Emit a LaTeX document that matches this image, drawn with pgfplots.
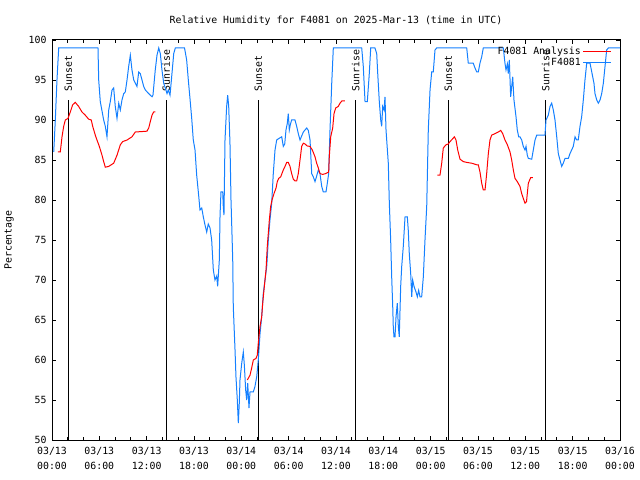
\documentclass[border=0pt]{standalone}
\usepackage{pgfplots}
\pgfplotsset{compat=1.18}
\usepackage{fontspec}
\setmainfont{DejaVu Sans Mono}
\definecolor{obsblue}{RGB}{20,128,255}
\newcommand{\ff}{\fontsize{9.9}{14.5}\selectfont}
\begin{document}
\begin{tikzpicture}
\useasboundingbox (0,0) rectangle (640bp,480bp);
\begin{axis}[
  at={(52bp,40bp)}, anchor=south west,
  scale only axis, width=568bp, height=400bp,
  xmin=0, xmax=72, ymin=50, ymax=100,
  xtick={0,6,...,72},
  minor xtick={2,4,8,10,14,16,20,22,26,28,32,34,38,40,44,46,50,52,56,58,62,64,68,70},
  xticklabels={03/13\\00:00,03/13\\06:00,03/13\\12:00,03/13\\18:00,03/14\\00:00,03/14\\06:00,03/14\\12:00,03/14\\18:00,03/15\\00:00,03/15\\06:00,03/15\\12:00,03/15\\18:00,03/16\\00:00},
  xticklabel style={align=center, font=\ff, yshift=-4bp},
  ytick={50,55,...,100},
  yticklabel style={font=\ff, xshift=-2bp},
  /pgf/number format/assume math mode=true,
  major tick length=4bp, minor tick length=3bp,
  tick style={black, line width=0.8bp},
  axis line style={line width=1bp},
  title={Relative Humidity for F4081 on 2025-Mar-13 (time in UTC)},
  title style={font=\ff, yshift=5bp},
  ylabel={Percentage},
  ylabel style={font=\ff, xshift=0bp, yshift=8bp},
  legend style={draw=none, fill=none, at={(1,1)}, anchor=north east, xshift=-5bp, yshift=-3bp, font=\fontsize{9.9}{11}\selectfont, row sep=-2bp},
  legend cell align=right,
  legend plot pos=right,
  legend image code/.code={\draw[#1] (0bp,0bp) -- (28bp,0bp);},
]
\addlegendimage{red, line width=1bp}
\addlegendentry{F4081 Analysis}
\addlegendimage{obsblue, line width=1bp}
\addlegendentry{F4081}

% sunrise / sunset lines
\addplot[black, line width=1bp, forget plot] coordinates {(2.06,50) (2.06,92.5)};
\addplot[black, line width=1bp, forget plot] coordinates {(14.49,50) (14.49,92.5)};
\addplot[black, line width=1bp, forget plot] coordinates {(26.15,50) (26.15,92.5)};
\addplot[black, line width=1bp, forget plot] coordinates {(38.50,50) (38.50,92.5)};
\addplot[black, line width=1bp, forget plot] coordinates {(50.23,50) (50.23,92.5)};
\addplot[black, line width=1bp, forget plot] coordinates {(62.59,50) (62.59,92.5)};
\node[rotate=90, anchor=west, inner sep=0pt, font=\fontsize{9.9}{11}\selectfont, xshift=1bp] at (axis cs:2.06,93.4) {Sunset};
\node[rotate=90, anchor=west, inner sep=0pt, font=\fontsize{9.9}{11}\selectfont, xshift=1bp] at (axis cs:14.49,93.4) {Sunrise};
\node[rotate=90, anchor=west, inner sep=0pt, font=\fontsize{9.9}{11}\selectfont, xshift=1bp] at (axis cs:26.15,93.4) {Sunset};
\node[rotate=90, anchor=west, inner sep=0pt, font=\fontsize{9.9}{11}\selectfont, xshift=1bp] at (axis cs:38.50,93.4) {Sunrise};
\node[rotate=90, anchor=west, inner sep=0pt, font=\fontsize{9.9}{11}\selectfont, xshift=1bp] at (axis cs:50.23,93.4) {Sunset};
\node[rotate=90, anchor=west, inner sep=0pt, font=\fontsize{9.9}{11}\selectfont, xshift=1bp] at (axis cs:62.59,93.4) {Sunrise};

% observed (blue)
\addplot[obsblue, line width=1bp, forget plot] table {
0.22 86.0
0.42 90
0.63 95
0.85 99
5.83 99
5.92 95
6.12 92.3
6.55 90
6.76 89.2
6.97 87.9
7.19 91.25
7.39 92.3
7.61 93.75
7.82 94
8.02 91.7
8.24 90.2
8.46 92.1
8.66 91.25
8.87 92.5
9.09 93.3
9.29 93.5
9.51 95
9.72 96.7
9.93 98.1
10.14 96.25
10.36 95
10.56 94.6
10.77 94.2
10.99 96
11.19 95.8
11.41 95
11.62 94.2
11.83 93.75
12.26 93.3
12.68 92.9
12.80 93.1
13.09 96.25
13.31 98.1
13.53 99
13.73 98.3
13.94 96.25
14.16 94.6
14.36 94
14.58 93.3
14.74 93.75
14.96 93.1
15.17 95.4
15.43 98.3
15.63 99
16.80 99
17.07 97.5
17.28 95
17.49 92.7
17.71 90.2
17.91 87.5
18.13 86.25
18.34 83.1
18.55 81
18.76 78.75
18.98 79
19.18 77.9
19.39 76.9
19.61 76
19.81 77
20.03 76.5
20.24 75
20.45 71.25
20.66 70
20.88 70.5
21.00 69.2
21.21 72.5
21.30 78.1
21.42 81
21.64 81
21.71 79.2
21.80 78.1
21.93 87.5
22.14 91.7
22.27 93.1
22.40 91.7
22.56 87.1
22.69 80
22.91 72.5
22.98 66.7
23.20 61.25
23.32 57.9
23.49 55
23.62 52.1
23.74 54.6
23.83 57.5
24.05 59.6
24.25 61
24.38 59.4
24.55 56.25
24.68 55
24.81 57.1
24.97 54
25.10 56
25.52 56
25.73 56.7
25.95 57.9
26.15 60
26.37 63.3
26.58 65.4
26.78 68.3
27.00 70
27.22 71.7
27.42 75
27.63 77.5
27.85 79.6
28.05 83.3
28.27 86.25
28.48 87.5
28.77 87.7
29.12 87.9
29.32 86.7
29.50 87
29.66 88.75
29.83 89.6
29.95 90.8
30.08 88.75
30.23 89.5
30.38 90
30.80 90
31.02 89.2
31.22 88.3
31.44 87.5
31.65 88
31.86 88.5
32.07 88.75
32.29 89
32.49 88.7
32.71 87.5
32.92 83.3
33.12 82.9
33.34 82.3
33.55 83
33.76 83.75
33.97 83.3
34.19 81.7
34.39 81
34.73 81
34.90 82.1
35.07 83.3
35.24 88.75
35.46 94.6
35.66 99
39.26 99
39.46 96.7
39.68 92.3
39.97 92.3
40.22 95.8
40.40 99
40.94 99
41.16 98.3
41.29 95.8
41.49 92.3
41.67 90
41.79 89.2
41.92 91.7
42.09 91.25
42.21 92.9
42.34 88.75
42.63 84.6
42.76 79.6
42.93 75
43.06 70.4
43.19 66.7
43.26 64.2
43.35 62.9
43.48 62.9
43.61 65.4
43.77 67.1
43.90 64.2
44.02 62.9
44.20 69.2
44.33 71.7
44.53 74.2
44.75 77.9
45.04 77.9
45.16 76.25
45.29 73.3
45.47 70.8
45.60 67.9
45.72 70
45.89 69.2
46.14 68.5
46.31 67.9
46.48 68.7
46.65 67.9
46.86 67.9
47.07 70.4
47.28 75
47.50 79.2
47.70 88.75
47.92 93.75
48.13 96
48.33 96
48.55 98.75
48.76 99
52.57 99
52.77 97.1
53.40 97.1
53.62 96.5
53.84 96
54.04 96
54.25 97.1
54.47 97.9
54.67 99
57.21 99
57.42 97.1
57.55 96.25
57.72 97
57.84 95.8
57.97 97.5
58.14 92.9
58.40 95.4
58.56 92.5
58.82 90.4
58.98 88.75
59.16 87.9
59.32 87.9
59.54 87.5
59.74 86.7
59.96 86.25
60.09 86.7
60.25 85.6
60.38 85.2
60.81 85.1
61.01 86.25
61.23 87.5
61.44 88.1
62.49 88.1
62.62 90
62.91 90.6
63.13 91.7
63.34 92.1
63.55 91.25
63.76 90
63.98 87.9
64.18 85.8
64.39 85
64.61 84.2
64.81 84.6
65.03 85.2
65.45 85.2
65.66 85.8
66.08 86.7
66.30 87.9
66.51 87.5
66.71 87.5
66.93 89.2
67.14 90.4
67.35 92.5
67.56 95
67.78 97.1
68.20 97.1
68.54 95.4
68.70 94.6
68.83 93.3
69.05 92.5
69.25 92.1
69.47 92.5
69.68 93.3
69.89 94.6
70.10 96.7
70.31 98.75
70.52 99
72.00 99
};

% analysis (red)
\addplot[red, line width=1bp, forget plot] table {
0.76 86
1.05 86
1.27 87.9
1.48 89.2
1.69 90
2.03 90.2
2.32 91
2.62 91.9
2.95 92.2
3.38 91.7
3.80 91
4.22 90.6
4.65 90.1
4.98 90
5.16 89.2
5.49 88.1
5.70 87.5
6.00 86.7
6.34 85.6
6.55 84.8
6.76 84.1
7.19 84.2
7.82 84.6
8.24 85.6
8.66 86.9
8.96 87.3
9.51 87.5
10.14 87.9
10.56 88.5
12.04 88.6
12.26 89
12.46 89.8
12.68 90.6
12.89 91
13.09 91
};
\addplot[red, line width=1bp, forget plot] table {
24.76 57.5
25.10 58.1
25.31 59
25.52 60
25.86 60.2
26.02 60.6
26.15 62.1
26.37 64.2
26.58 65.4
26.71 67.1
26.87 68.75
27.13 71.25
27.29 74.2
27.55 77.5
27.72 79.2
27.89 80
28.14 80.8
28.40 81.5
28.56 82.3
28.74 82.7
28.99 82.9
29.32 83.75
29.54 84.2
29.75 84.7
29.95 84.7
30.17 84.2
30.38 83.3
30.59 82.6
30.80 82.4
31.02 82.4
31.22 83.3
31.44 85
31.65 86.7
31.86 87.1
32.07 87
32.36 86.75
32.71 86.7
33.00 86.25
33.34 85.4
33.55 84.6
33.76 84
33.97 83.3
34.31 83.2
34.69 83.3
35.07 83.5
35.15 85.4
35.33 87.9
35.58 89
35.75 90.8
35.96 91.5
36.29 91.7
36.51 92.1
36.76 92.4
37.14 92.4
};
\addplot[red, line width=1bp, forget plot] table {
48.84 83.1
49.18 83.1
49.40 84.6
49.60 86.5
49.94 86.9
50.23 87
50.45 87.3
50.74 87.6
51.00 87.9
51.21 87.5
51.43 86.25
51.72 85.1
52.14 84.8
52.57 84.7
53.20 84.6
53.84 84.4
54.04 84.4
54.25 83.5
54.47 82.1
54.67 81.25
54.89 81.25
55.10 83.3
55.31 85.8
55.52 87.5
55.73 88.1
56.16 88.3
56.57 88.5
56.88 88.7
57.13 88.3
57.42 87.5
57.72 86.9
58.06 86
58.27 85
58.48 83.75
58.69 82.7
58.98 82.3
59.32 81.7
59.54 80.8
59.74 80.2
59.96 79.6
60.15 79.8
60.38 82.1
60.68 82.8
60.97 82.8
};
\end{axis}
\end{tikzpicture}
\end{document}
